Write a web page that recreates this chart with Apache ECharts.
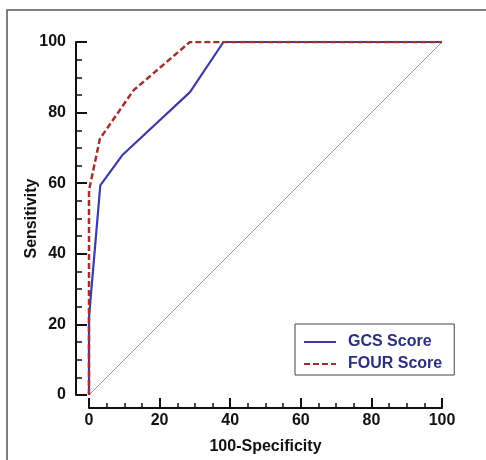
<!DOCTYPE html>
<html>
<head>
<meta charset="utf-8">
<script src="https://cdn.jsdelivr.net/npm/echarts@6/dist/echarts.min.js"></script>
<style>
  html, body { margin: 0; padding: 0; background: #fff; }
  #chart { width: 486px; height: 460px; }
</style>
</head>
<body>
<div id="chart"></div>
<script>
// ROC curves (100-Specificity vs Sensitivity)
var gcsX = [0, 0, 3.2, 9.4, 28.6, 38.1, 100];
var gcsY = [0, 22, 59.4, 67.9, 85.8, 100, 100];
var fourX = [0, 0, 3.1, 12.6, 28.6, 100];
var fourY = [0, 58, 72.6, 86.3, 100, 100];
var diagX = [0, 100];
var diagY = [0, 100];
var seriesNames = ['GCS Score', 'FOUR Score'];

function pairs(xs, ys) {
  return xs.map(function (x, i) { return [x, ys[i]]; });
}

var font = '"Liberation Sans", Arial, sans-serif';
var axisColor = '#111';

var chart = echarts.init(document.getElementById('chart'));

var option = {
  animation: false,
  backgroundColor: '#fff',
  grid: { left: 89, right: 44, top: 42, bottom: 65 },
  graphic: [{
    type: 'rect',
    shape: { x: 7, y: 10, width: 500, height: 480 },
    style: { fill: 'none', stroke: '#555', lineWidth: 1.5 },
    silent: true
  }],
  xAxis: [{
    type: 'value', min: 0, max: 100, interval: 20, offset: 13,
    axisLine: { show: false, onZero: false },
    axisTick: { inside: true, length: 10, lineStyle: { color: axisColor, width: 2 } },
    minorTick: { show: true, splitNumber: 4, length: 5, lineStyle: { color: axisColor, width: 1.5 } },
    splitLine: { show: false },
    axisLabel: { margin: 5, color: axisColor, fontFamily: font, fontWeight: 'bold', fontSize: 16 },
    name: '100-Specificity', nameLocation: 'middle', nameGap: 31, nameMoveOverlap: false,
    nameTextStyle: { color: axisColor, fontFamily: font, fontWeight: 'bold', fontSize: 16 }
  }, {
    type: 'value', min: -3.7, max: 103.7, offset: 13, position: 'bottom',
    axisLine: { show: true, onZero: false, lineStyle: { color: axisColor, width: 2 } },
    axisTick: { show: false }, axisLabel: { show: false }, splitLine: { show: false }
  }],
  yAxis: [{
    type: 'value', min: 0, max: 100, interval: 20, offset: 13,
    axisLine: { show: false, onZero: false },
    axisTick: { inside: true, length: 11, lineStyle: { color: axisColor, width: 2 } },
    minorTick: { show: true, splitNumber: 4, length: 6, lineStyle: { color: axisColor, width: 1.5 } },
    splitLine: { show: false },
    axisLabel: { margin: 10, color: axisColor, fontFamily: font, fontWeight: 'bold', fontSize: 16 },
    name: 'Sensitivity', nameLocation: 'middle', nameGap: 36, nameRotate: 90, nameMoveOverlap: false,
    nameTextStyle: { color: axisColor, fontFamily: font, fontWeight: 'bold', fontSize: 16 }
  }, {
    type: 'value', min: -3.7, max: 104, offset: 13, position: 'left',
    axisLine: { show: true, onZero: false, lineStyle: { color: axisColor, width: 2 } },
    axisTick: { show: false }, axisLabel: { show: false }, splitLine: { show: false }
  }],
  legend: {
    data: seriesNames,
    orient: 'vertical',
    left: 295, top: 324,
    padding: [10, 12, 3, 8],
    itemWidth: 32, itemHeight: 14, itemGap: 6,
    borderColor: '#444', borderWidth: 1,
    itemStyle: { opacity: 0 },
    textStyle: { color: '#2b2f80', fontFamily: font, fontWeight: 'bold', fontSize: 16, padding: [0, 0, 0, 7] }
  },
  series: [{
    name: 'diag', type: 'line', data: pairs(diagX, diagY),
    showSymbol: false, symbol: 'none', silent: true,
    lineStyle: { color: '#9a9a9a', width: 1 }
  }, {
    name: seriesNames[0], type: 'line', data: pairs(gcsX, gcsY),
    showSymbol: false, symbol: 'none',
    color: '#3c3ca6',
    lineStyle: { color: '#3c3ca6', width: 2.2 }
  }, {
    name: seriesNames[1], type: 'line', data: pairs(fourX, fourY),
    showSymbol: false, symbol: 'none',
    color: '#a2302c',
    lineStyle: { color: '#a2302c', width: 2.5, type: [6, 3] }
  }]
};

chart.setOption(option);
</script>
</body>
</html>
